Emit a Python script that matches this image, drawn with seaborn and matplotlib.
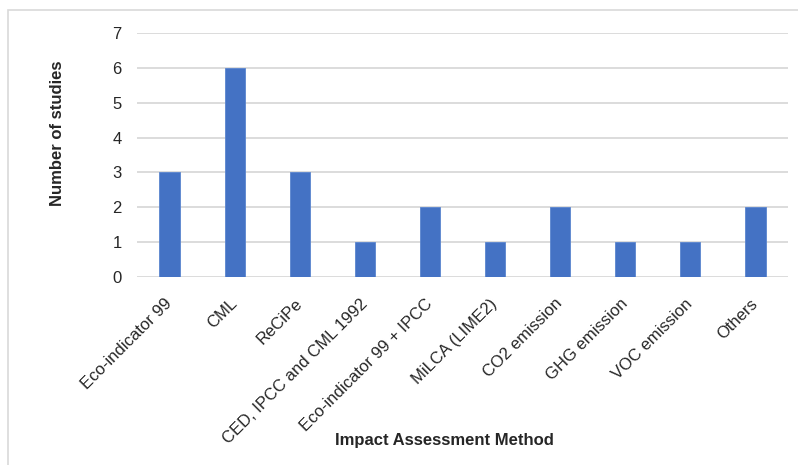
import matplotlib
matplotlib.use("Agg")
import matplotlib.pyplot as plt
import seaborn as sns
import pandas as pd
from matplotlib.patches import Rectangle

methods = [
    "Eco-indicator 99", "CML", "ReCiPe", "CED, IPCC and CML 1992",
    "Eco-indicator 99 + IPCC", "MiLCA (LIME2)", "CO2 emission",
    "GHG emission", "VOC emission", "Others",
]
studies = [3, 6, 3, 1, 2, 1, 2, 1, 1, 2]
y_ticks = [0, 1, 2, 3, 4, 5, 6, 7]

sns.set_theme(style="white")
plt.rcParams["font.family"] = ["Liberation Sans", "DejaVu Sans"]

df = pd.DataFrame({"method": methods, "studies": studies})

fig = plt.figure(figsize=(7.98, 4.65), dpi=100)
ax = fig.add_axes([137 / 798, 1 - 277 / 465, 651 / 798, 244 / 465])

sns.barplot(data=df, x="method", y="studies", color="#4472C4",
            width=0.31, saturation=1, edgecolor="#5a85cf", linewidth=0.6,
            ax=ax, zorder=3)

ax.set_ylim(0, 7)
ax.set_yticks(y_ticks)
ax.set_xlim(-0.5, len(methods) - 0.5)
ax.grid(axis="y", color="#d9d9d9", linewidth=1.3, zorder=0)
ax.set_axisbelow(True)
for s in ax.spines.values():
    s.set_visible(False)

ax.tick_params(axis="y", length=0, pad=11, labelsize=12, labelcolor="#262626")
ax.tick_params(axis="x", length=0, pad=17.5, labelsize=12, labelcolor="#262626")
ax.set_xticks(range(len(methods)))
ax.set_xticklabels(methods, rotation=45, ha="right", va="center",
                   rotation_mode="anchor")

ax.set_ylabel("Number of studies", fontsize=12, fontweight="bold", color="#262626")
ax.yaxis.set_label_coords(-0.111, 0.59)
ax.set_xlabel("Impact Assessment Method", fontsize=12, fontweight="bold", color="#262626")
ax.xaxis.set_label_coords(0.472, -0.64)

# chart-area frame
fig.patches.append(Rectangle((8 / 798, -0.1), 1.2, 1 - 10 / 465 + 0.1,
                             transform=fig.transFigure, fill=False,
                             edgecolor="#d9d9d9", linewidth=1.2))

fig.savefig("out.png", dpi=100)
